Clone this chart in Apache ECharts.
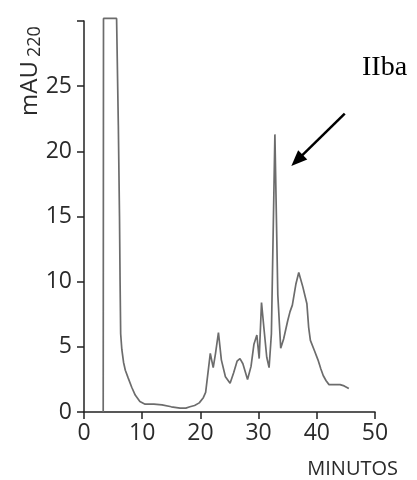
<!DOCTYPE html>
<html>
<head>
<meta charset="utf-8">
<script src="https://cdn.jsdelivr.net/npm/echarts@6/dist/echarts.min.js"></script>
<style>html,body{margin:0;padding:0;background:#fff}#c{width:417px;height:480px}</style>
</head>
<body>
<div id="c"></div>
<script>
var times = [3.3, 3.35, 5.6, 5.9, 6.1, 6.2, 6.3, 6.5, 6.8, 7.1, 7.6, 8.2, 8.8, 9.6, 10.5, 12, 13.4, 15, 16.5, 17.5, 18.2, 19, 19.8, 20.5, 20.9, 21.3, 21.7, 22.2, 22.6, 23.1, 23.6, 24.3, 25.1, 25.7, 26.3, 26.8, 27.3, 28.1, 28.7, 29.2, 29.7, 30.1, 30.5, 30.9, 31.4, 31.8, 32.2, 32.8, 33.3, 33.8, 34.3, 35.0, 35.4, 35.8, 36.4, 36.9, 37.6, 38.3, 38.6, 38.9, 39.6, 40.2, 40.7, 41.1, 41.6, 42.1, 43.0, 44.0, 44.7, 45.5];
var absorb = [0, 30.2, 30.2, 22, 15, 10, 6, 4.8, 3.8, 3.2, 2.6, 1.9, 1.3, 0.8, 0.6, 0.6, 0.55, 0.4, 0.3, 0.3, 0.4, 0.5, 0.7, 1.1, 1.5, 3.0, 4.5, 3.4, 4.5, 6.1, 4.0, 2.7, 2.2, 3.0, 3.9, 4.1, 3.7, 2.5, 3.5, 5.2, 5.9, 4.1, 8.4, 6.5, 4.2, 3.4, 6, 21.3, 9, 4.9, 5.6, 7.0, 7.7, 8.2, 9.8, 10.7, 9.6, 8.3, 6.5, 5.5, 4.7, 4.0, 3.3, 2.8, 2.4, 2.1, 2.1, 2.1, 2.0, 1.8];
var xTicks = [0, 10, 20, 30, 40, 50];
var yTicks = [0, 5, 10, 15, 20, 25, 30];
var arrowFrom = [44.8, 22.9];
var arrowTo = [36.6, 19.3];
var peakLabel = 'IIba';

var data = times.map(function (t, i) { return [t, absorb[i]]; });
var chart = echarts.init(document.getElementById('c'), null, {renderer: 'canvas'});
var labelFont = {fontFamily: 'Open Sans', fontSize: 23, color: '#2a2a2a'};
chart.setOption({
  animation: false,
  grid: {left: 84, right: 42, top: 21, bottom: 68, containLabel: false, outerBoundsMode: 'none'},
  xAxis: {
    type: 'value', min: xTicks[0], max: xTicks[xTicks.length - 1], interval: 10,
    axisLine: {lineStyle: {color: '#222', width: 1.5}},
    axisTick: {show: true, length: 7, lineStyle: {color: '#222', width: 1.5}},
    axisLabel: Object.assign({margin: 10}, labelFont),
    splitLine: {show: false}
  },
  yAxis: {
    type: 'value', min: yTicks[0], max: yTicks[yTicks.length - 1], interval: 5,
    axisLine: {show: true, lineStyle: {color: '#222', width: 1.5}},
    axisTick: {show: true, length: 7, lineStyle: {color: '#222', width: 1.5}},
    axisLabel: Object.assign({margin: 12, formatter: function (v) { return v === 30 ? '' : String(v); }}, labelFont),
    splitLine: {show: false}
  },
  series: [{
    type: 'line', data: data, showSymbol: false, clip: false,
    lineStyle: {color: '#6c6c6c', width: 1.7},
    markLine: {
      silent: true, symbol: ['none', 'triangle'], symbolSize: [13, 16],
      label: {show: false},
      lineStyle: {color: '#000', width: 2.5, type: 'solid'},
      data: [[{coord: arrowFrom}, {coord: arrowTo}]]
    }
  }],
  graphic: [
    {type: 'text', x: 362, y: 54, style: {text: peakLabel, fontFamily: 'Liberation Serif', fontSize: 28, fill: '#000', textAlign: 'left', textVerticalAlign: 'top'}},
    {type: 'text', x: 398, y: 469, style: {text: 'MINUTOS', fontFamily: 'Open Sans', fontSize: 20, fill: '#2a2a2a', textAlign: 'right', textVerticalAlign: 'middle'}},
    {type: 'text', x: 30, y: 116, rotation: Math.PI / 2, style: {text: 'mAU', fontFamily: 'Open Sans', fontSize: 24, fill: '#2a2a2a', textAlign: 'left', textVerticalAlign: 'middle'}},
    {type: 'text', x: 35, y: 57, rotation: Math.PI / 2, style: {text: '220', fontFamily: 'Open Sans', fontSize: 18, fill: '#2a2a2a', textAlign: 'left', textVerticalAlign: 'middle'}}
  ]
});
</script>
</body>
</html>
